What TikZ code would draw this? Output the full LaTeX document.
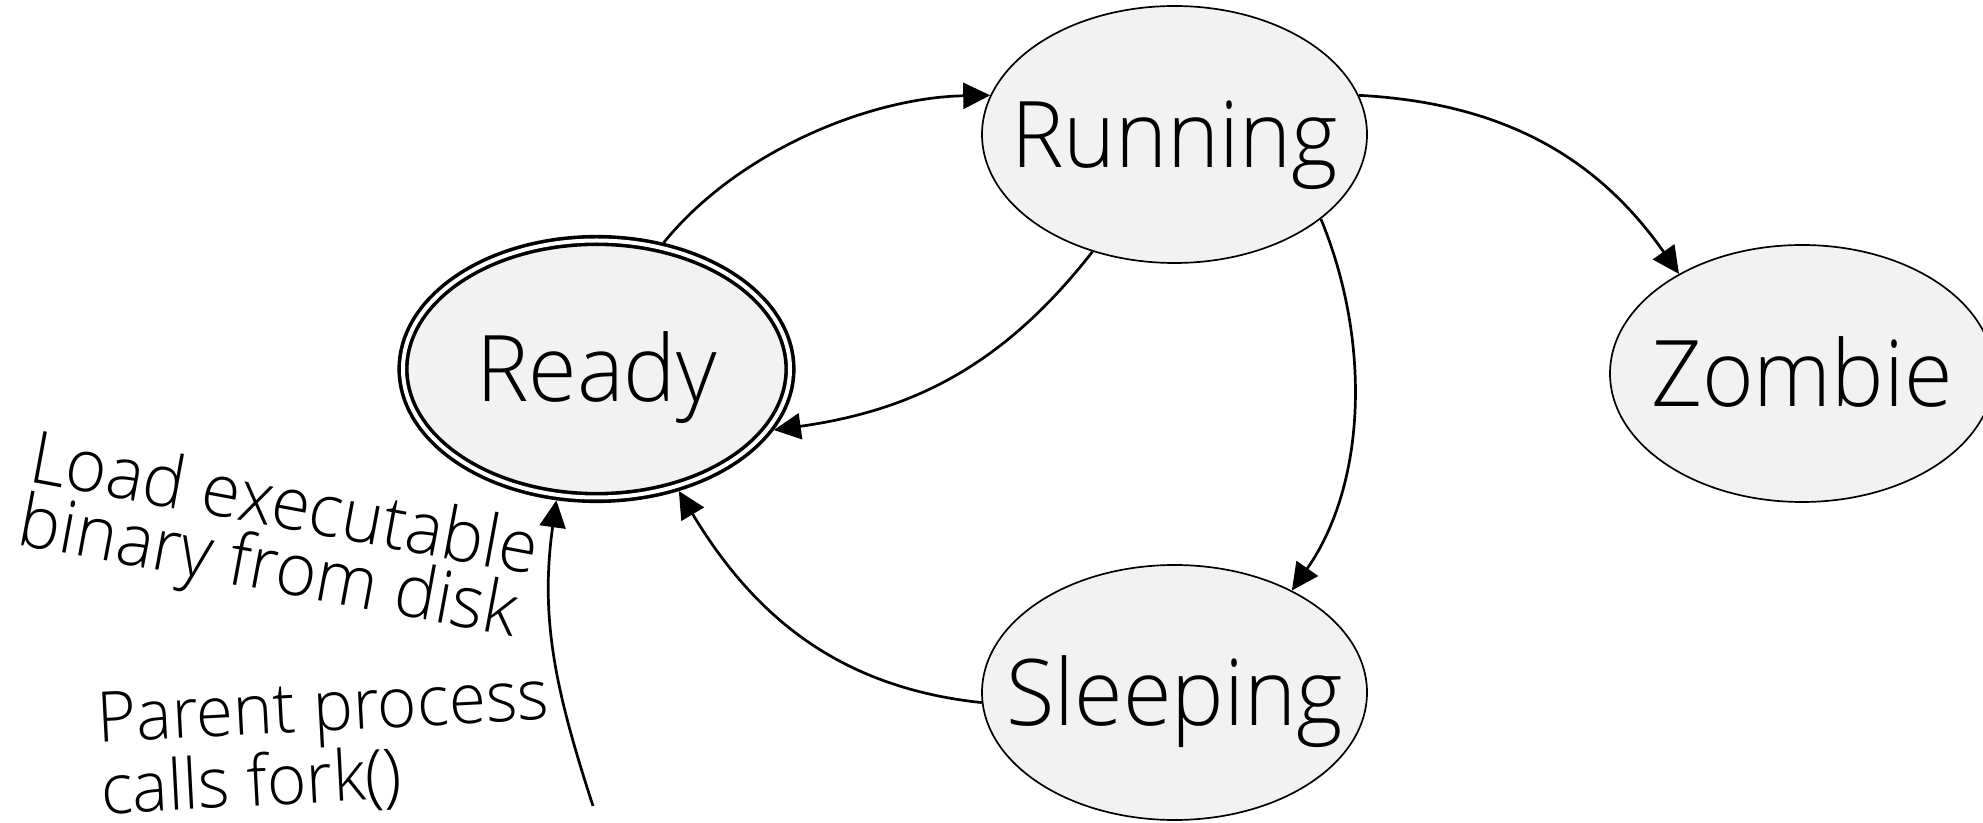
\documentclass[tikz,border=0pt]{standalone}
\usepackage{fontspec}
\setmainfont{Open Sans Light}[FakeStretch=0.96]
\usetikzlibrary{shapes.geometric,arrows.meta}
\definecolor{nodefill}{RGB}{242,242,242}
\newcommand\statefnt{\fontsize{92}{100}\selectfont}
\newcommand\lblfnt{\fontsize{70}{62}\selectfont}
\newcommand\lblbigfnt{\fontsize{73}{64}\selectfont}
\newcommand\zb[1]{\makebox[0pt]{#1}}
\tikzset{
  state/.style={ellipse, draw, line width=1.7pt, fill=nodefill, inner sep=0pt,
    font=\statefnt, text height=66pt, text depth=0pt},
  initstate/.style={state, double, line width=3.6pt, double distance=4pt, outer sep=5.6pt},
  edgeline/.style={line width=2.7pt, -{Triangle[length=27pt,width=26pt]}},
  lbl/.style={align=left, inner sep=0pt, font=\lblfnt}
}
\begin{document}
\begin{tikzpicture}[x=1pt,y=1pt]
\useasboundingbox (0,0) rectangle (1983,822);
\clip (0,0) rectangle (1983,822);
\node[initstate, minimum width=387pt, minimum height=257pt] (ready) at (596.5,453) {\zb{Ready}};
\node[state, minimum width=385pt, minimum height=257pt] (running) at (1174.5,687.5) {\zb{Running}};
\node[state, minimum width=385pt, minimum height=255pt] (sleeping) at (1174.5,129.5) {\zb{Sleeping}};
\node[state, minimum width=384pt, minimum height=257pt] (zombie) at (1802,448.5) {\zb{Zombie}};
\node[lbl, font=\lblbigfnt, rotate=-10.5, anchor=west] (loadlbl) at (25,328) {Load executable\\binary from disk};
\node[lbl, rotate=3, anchor=west] (forklbl) at (99,63) {Parent process\\calls fork()};
\coordinate (forkstart) at (593,16);
\draw[edgeline] (ready.62.7) to[out=51,in=181,looseness=0.85] (running.168.6);
\draw[edgeline] (running.235.5) to[out=232,in=8] (ready.-19.9);
\draw[edgeline] (running.12.5) to[out=-3,in=125] (zombie.141.8);
\draw[edgeline] (running.-30) to[out=-67.5,in=55,looseness=0.9] (sleeping.41.6);
\draw[edgeline] (sleeping.183.7) to[out=174,in=-59] (ready.-56);
\draw[edgeline] (forkstart) to[out=108,in=-98] (ready.-107.7);
\end{tikzpicture}
\end{document}
